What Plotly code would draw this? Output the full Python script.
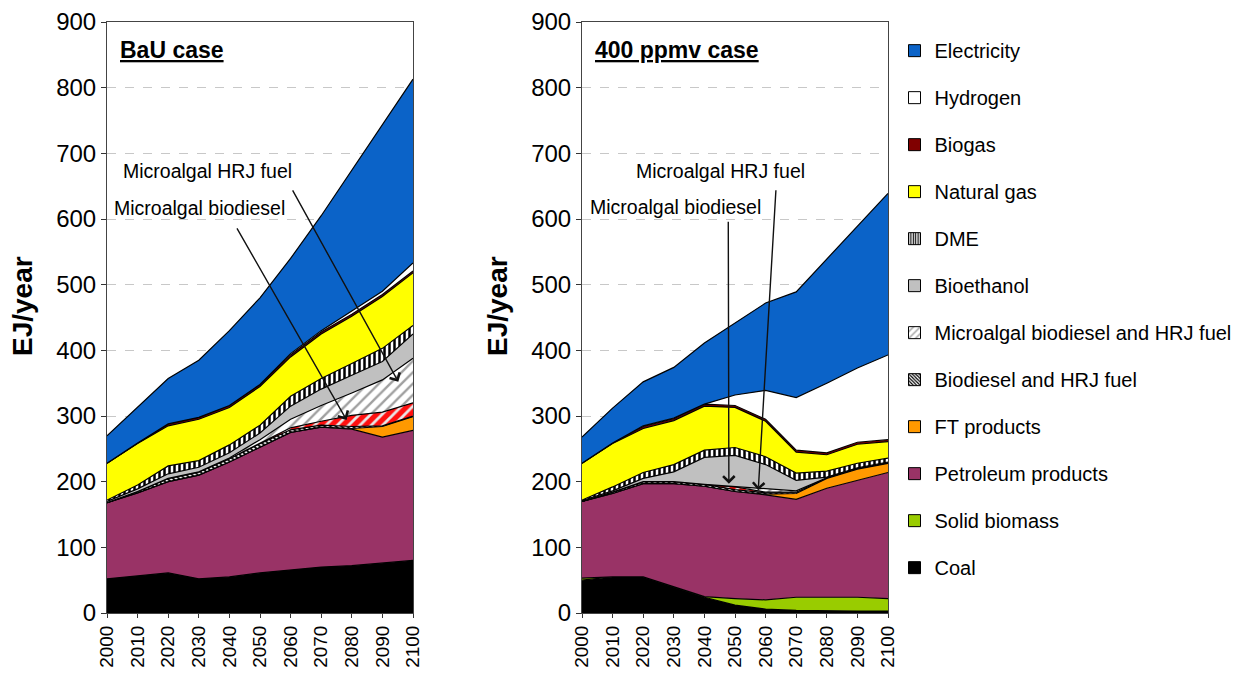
import plotly.graph_objects as go
from plotly.subplots import make_subplots

years = [2000, 2010, 2020, 2030, 2040, 2050, 2060, 2070, 2080, 2090, 2100]

# ---- BaU case (EJ/year, per layer) ----
bau_coal        = [52, 57, 61, 52, 55, 61, 66, 70, 72, 76, 80]
bau_solid       = [0, 0, 0, 0, 0, 0, 0, 0, 0, 0, 0]
bau_petroleum   = [116, 126, 139, 158, 175, 192, 209, 213, 208, 192, 198]
bau_ft          = [0, 0, 0, 0, 0, 0, 0, 0, 1, 16, 21]
bau_biodiesel   = [0, 2, 5, 5, 5, 5, 4, 3, 3, 1, 1]
bau_micro_bd    = [0, 0, 0, 0, 0, 1, 3, 6, 17, 21, 20]
bau_micro_hrj   = [0, 0, 0, 0, 1, 5, 13, 24, 34, 49, 68]
bau_bioethanol  = [2, 4, 7, 7, 8, 10, 20, 25, 27, 28, 37]
bau_dme         = [2, 6, 12, 10, 12, 12, 15, 16, 18, 20, 13]
bau_natgas      = [56, 63, 61, 63, 57, 59, 60, 68, 72, 79, 80]
bau_biogas      = [0, 1, 3, 3, 3, 3, 3, 3, 3, 3, 3]
bau_hydrogen    = [0, 0, 0, 0, 0, 0, 2, 2, 5, 5, 12]
bau_electricity = [42, 54, 69, 87, 114, 132, 145, 175, 215, 255, 280]

# ---- 400 ppmv case ----
ppm_coal        = [50, 55, 55, 40, 24, 12, 6, 4, 3, 3, 3]
ppm_solid       = [3, 0, 0, 0, 1, 10, 14, 20, 21, 21, 19]
ppm_petroleum   = [117, 127, 142, 157, 168, 163, 160, 149, 166, 178, 192]
ppm_ft          = [0, 0, 0, 0, 0, 0, 1, 9, 15, 17, 14]
ppm_biodiesel   = [0, 2, 3, 3, 3, 3, 2, 2, 1, 1, 1]
ppm_micro_bd    = [0, 0, 0, 0, 0, 4, 1, 0, 0, 0, 0]
ppm_micro_hrj   = [0, 0, 0, 0, 0, 1, 5, 2, 0, 0, 0]
ppm_bioethanol  = [1, 2, 5, 15, 41, 47, 37, 16, 1, 1, 1]
ppm_dme         = [1, 6, 9, 11, 11, 12, 12, 11, 9, 7, 6]
ppm_natgas      = [56, 66, 67, 67, 67, 61, 54, 32, 25, 29, 25]
ppm_biogas      = [0, 1, 3, 3, 3, 3, 3, 3, 3, 3, 3]
ppm_hydrogen    = [0, 0, 1, 1, 0, 16, 44, 80, 106, 113, 129]
ppm_electricity = [40, 53, 67, 77, 93, 109, 133, 161, 189, 216, 246]

layer_names = ["Coal", "Solid biomass", "Petroleum products", "FT products",
               "Biodiesel and HRJ fuel", "Microalgal biodiesel", "Microalgal HRJ fuel",
               "Bioethanol", "DME", "Natural gas", "Biogas", "Hydrogen", "Electricity"]
bau_values = [bau_coal, bau_solid, bau_petroleum, bau_ft, bau_biodiesel, bau_micro_bd,
              bau_micro_hrj, bau_bioethanol, bau_dme, bau_natgas, bau_biogas,
              bau_hydrogen, bau_electricity]
ppm_values = [ppm_coal, ppm_solid, ppm_petroleum, ppm_ft, ppm_biodiesel, ppm_micro_bd,
              ppm_micro_hrj, ppm_bioethanol, ppm_dme, ppm_natgas, ppm_biogas,
              ppm_hydrogen, ppm_electricity]

legend_names = ["Electricity", "Hydrogen", "Biogas", "Natural gas", "DME", "Bioethanol",
                "Microalgal biodiesel and HRJ fuel", "Biodiesel and HRJ fuel",
                "FT products", "Petroleum products", "Solid biomass", "Coal"]

# styles: (fill colour, pattern)
styles = {
    "Coal": ("#000000", None),
    "Solid biomass": ("#99cc00", None),
    "Petroleum products": ("#993366", None),
    "FT products": ("#ff9900", None),
    "Biodiesel and HRJ fuel": ("#ffffff", dict(shape="\\", fgcolor="#000000", bgcolor="#ffffff", size=4, solidity=0.5, fillmode="replace")),
    "Microalgal biodiesel": ("#ff0000", dict(shape="/", fgcolor="#e8e8e8", bgcolor="#ff1010", size=8, solidity=0.35, fillmode="replace")),
    "Microalgal HRJ fuel": ("#ffffff", dict(shape="/", fgcolor="#a0a0a0", bgcolor="#ffffff", size=8, solidity=0.3, fillmode="replace")),
    "Bioethanol": ("#c0c0c0", None),
    "DME": ("#ffffff", dict(shape="|", fgcolor="#000000", bgcolor="#ffffff", size=5, solidity=0.5, fillmode="replace")),
    "Natural gas": ("#ffff00", None),
    "Biogas": ("#800000", None),
    "Hydrogen": ("#ffffff", None),
    "Electricity": ("#0b63c8", None),
}
legend_style_key = {"Microalgal biodiesel and HRJ fuel": "Microalgal HRJ fuel"}

fig = make_subplots(rows=1, cols=2)

for col, (vals, grp) in enumerate([(bau_values, "bau"), (ppm_values, "ppm")], start=1):
    for name, v in zip(layer_names, vals):
        color, pat = styles[name]
        kw = dict(x=years, y=v, name=name, mode="lines", stackgroup=grp,
                  line=dict(color="black", width=1.2), fillcolor=color,
                  showlegend=False, hoverinfo="x+y+name")
        if pat:
            kw["fillpattern"] = pat
        fig.add_trace(go.Scatter(**kw), row=1, col=col)

# legend entries (bar symbols give small squares like the reference)
for i, name in enumerate(legend_names):
    key = legend_style_key.get(name, name)
    color, pat = styles[key]
    marker = dict(color=color, line=dict(color="black", width=1))
    if pat:
        p = dict(pat)
        p["size"] = max(3, p["size"] - 2)
        marker["pattern"] = p
    fig.add_trace(go.Bar(x=[None], y=[None], name=name, marker=marker,
                         legendgroup=f"g{i}", showlegend=True), row=1, col=2)

font = "Liberation Sans, Arial, sans-serif"
# page body has an 8px margin, so positions are shifted by 8px
ydom = [1 - 605 / 677, 1 - 14 / 677]
for i, dom in [(1, [99 / 1250, 405 / 1250]), (2, [574 / 1250, 880 / 1250])]:
    fig.update_xaxes(row=1, col=i, domain=dom, range=[2000, 2100], tickmode="array",
                     tickvals=years, ticktext=[str(y) for y in years], tickangle=-90,
                     ticks="outside", ticklen=4, tickcolor="#333", automargin=False,
                     showline=True, linecolor="#444", linewidth=1, mirror=True,
                     showgrid=False, zeroline=False,
                     tickfont=dict(family=font, size=19, color="black"))
    fig.update_yaxes(row=1, col=i, domain=ydom, range=[0, 900], dtick=100,
                     ticks="outside", ticklen=5, tickcolor="#333", automargin=False,
                     showline=True, linecolor="#444", linewidth=1, mirror=True,
                     showgrid=True, gridcolor="#c8c8c8", griddash="dash", gridwidth=1,
                     zeroline=False,
                     tickfont=dict(family=font, size=24, color="black"))

ann = []
for xr, yr, title, tx in [("x", "y", "BaU case", 0.0112), ("x2", "y2", "400 ppmv case", 0.3912)]:
    ann.append(dict(xref=xr, yref=yr, x=2003.6, y=857, text=f"<b><u>{title}</u></b>",
                    showarrow=False, xanchor="left", yanchor="middle",
                    font=dict(family=font, size=23, color="black")))
    ann.append(dict(xref="paper", yref="paper", x=tx, y=0.5598, text="<b>EJ/year</b>",
                    textangle=-90, showarrow=False, xanchor="center", yanchor="middle",
                    font=dict(family=font, size=28, color="black")))

# callout labels
ann += [
    dict(xref="x", yref="y", x=2032.7, y=673, text="Microalgal HRJ fuel", showarrow=False,
         font=dict(family=font, size=19.5, color="black")),
    dict(xref="x", yref="y", x=2030.1, y=616, text="Microalgal biodiesel", showarrow=False,
         font=dict(family=font, size=19.5, color="black")),
    dict(xref="x2", yref="y2", x=2045.4, y=673, text="Microalgal HRJ fuel", showarrow=False,
         font=dict(family=font, size=19.5, color="black")),
    dict(xref="x2", yref="y2", x=2030.4, y=618, text="Microalgal biodiesel", showarrow=False,
         font=dict(family=font, size=19.5, color="black")),
]
arrows = [("x", "y", 2078.3, 294, 2042.2, 588), ("x", "y", 2095.2, 352, 2060.4, 646),
          ("x2", "y2", 2048.0, 197, 2047.8, 598), ("x2", "y2", 2057.6, 187, 2063.4, 646)]
for xr, yr, x, y, ax, ay in arrows:
    ann.append(dict(xref=xr, yref=yr, axref=xr, ayref=yr, x=x, y=y, ax=ax, ay=ay,
                    text="", showarrow=True, arrowhead=4, arrowsize=1.6,
                    arrowwidth=1.4, arrowcolor="#111"))

fig.update_layout(
    width=1250, height=677, margin=dict(l=0, r=0, t=0, b=0, autoexpand=False),
    paper_bgcolor="white", plot_bgcolor="white",
    annotations=ann,
    showlegend=True,
    legend=dict(x=0.7092, y=0.9658, xanchor="left", yanchor="top",
                traceorder="grouped", tracegroupgap=18,
                font=dict(family=font, size=20, color="black"),
                bgcolor="rgba(0,0,0,0)", itemclick=False),
)

fig.write_html("out.html")
